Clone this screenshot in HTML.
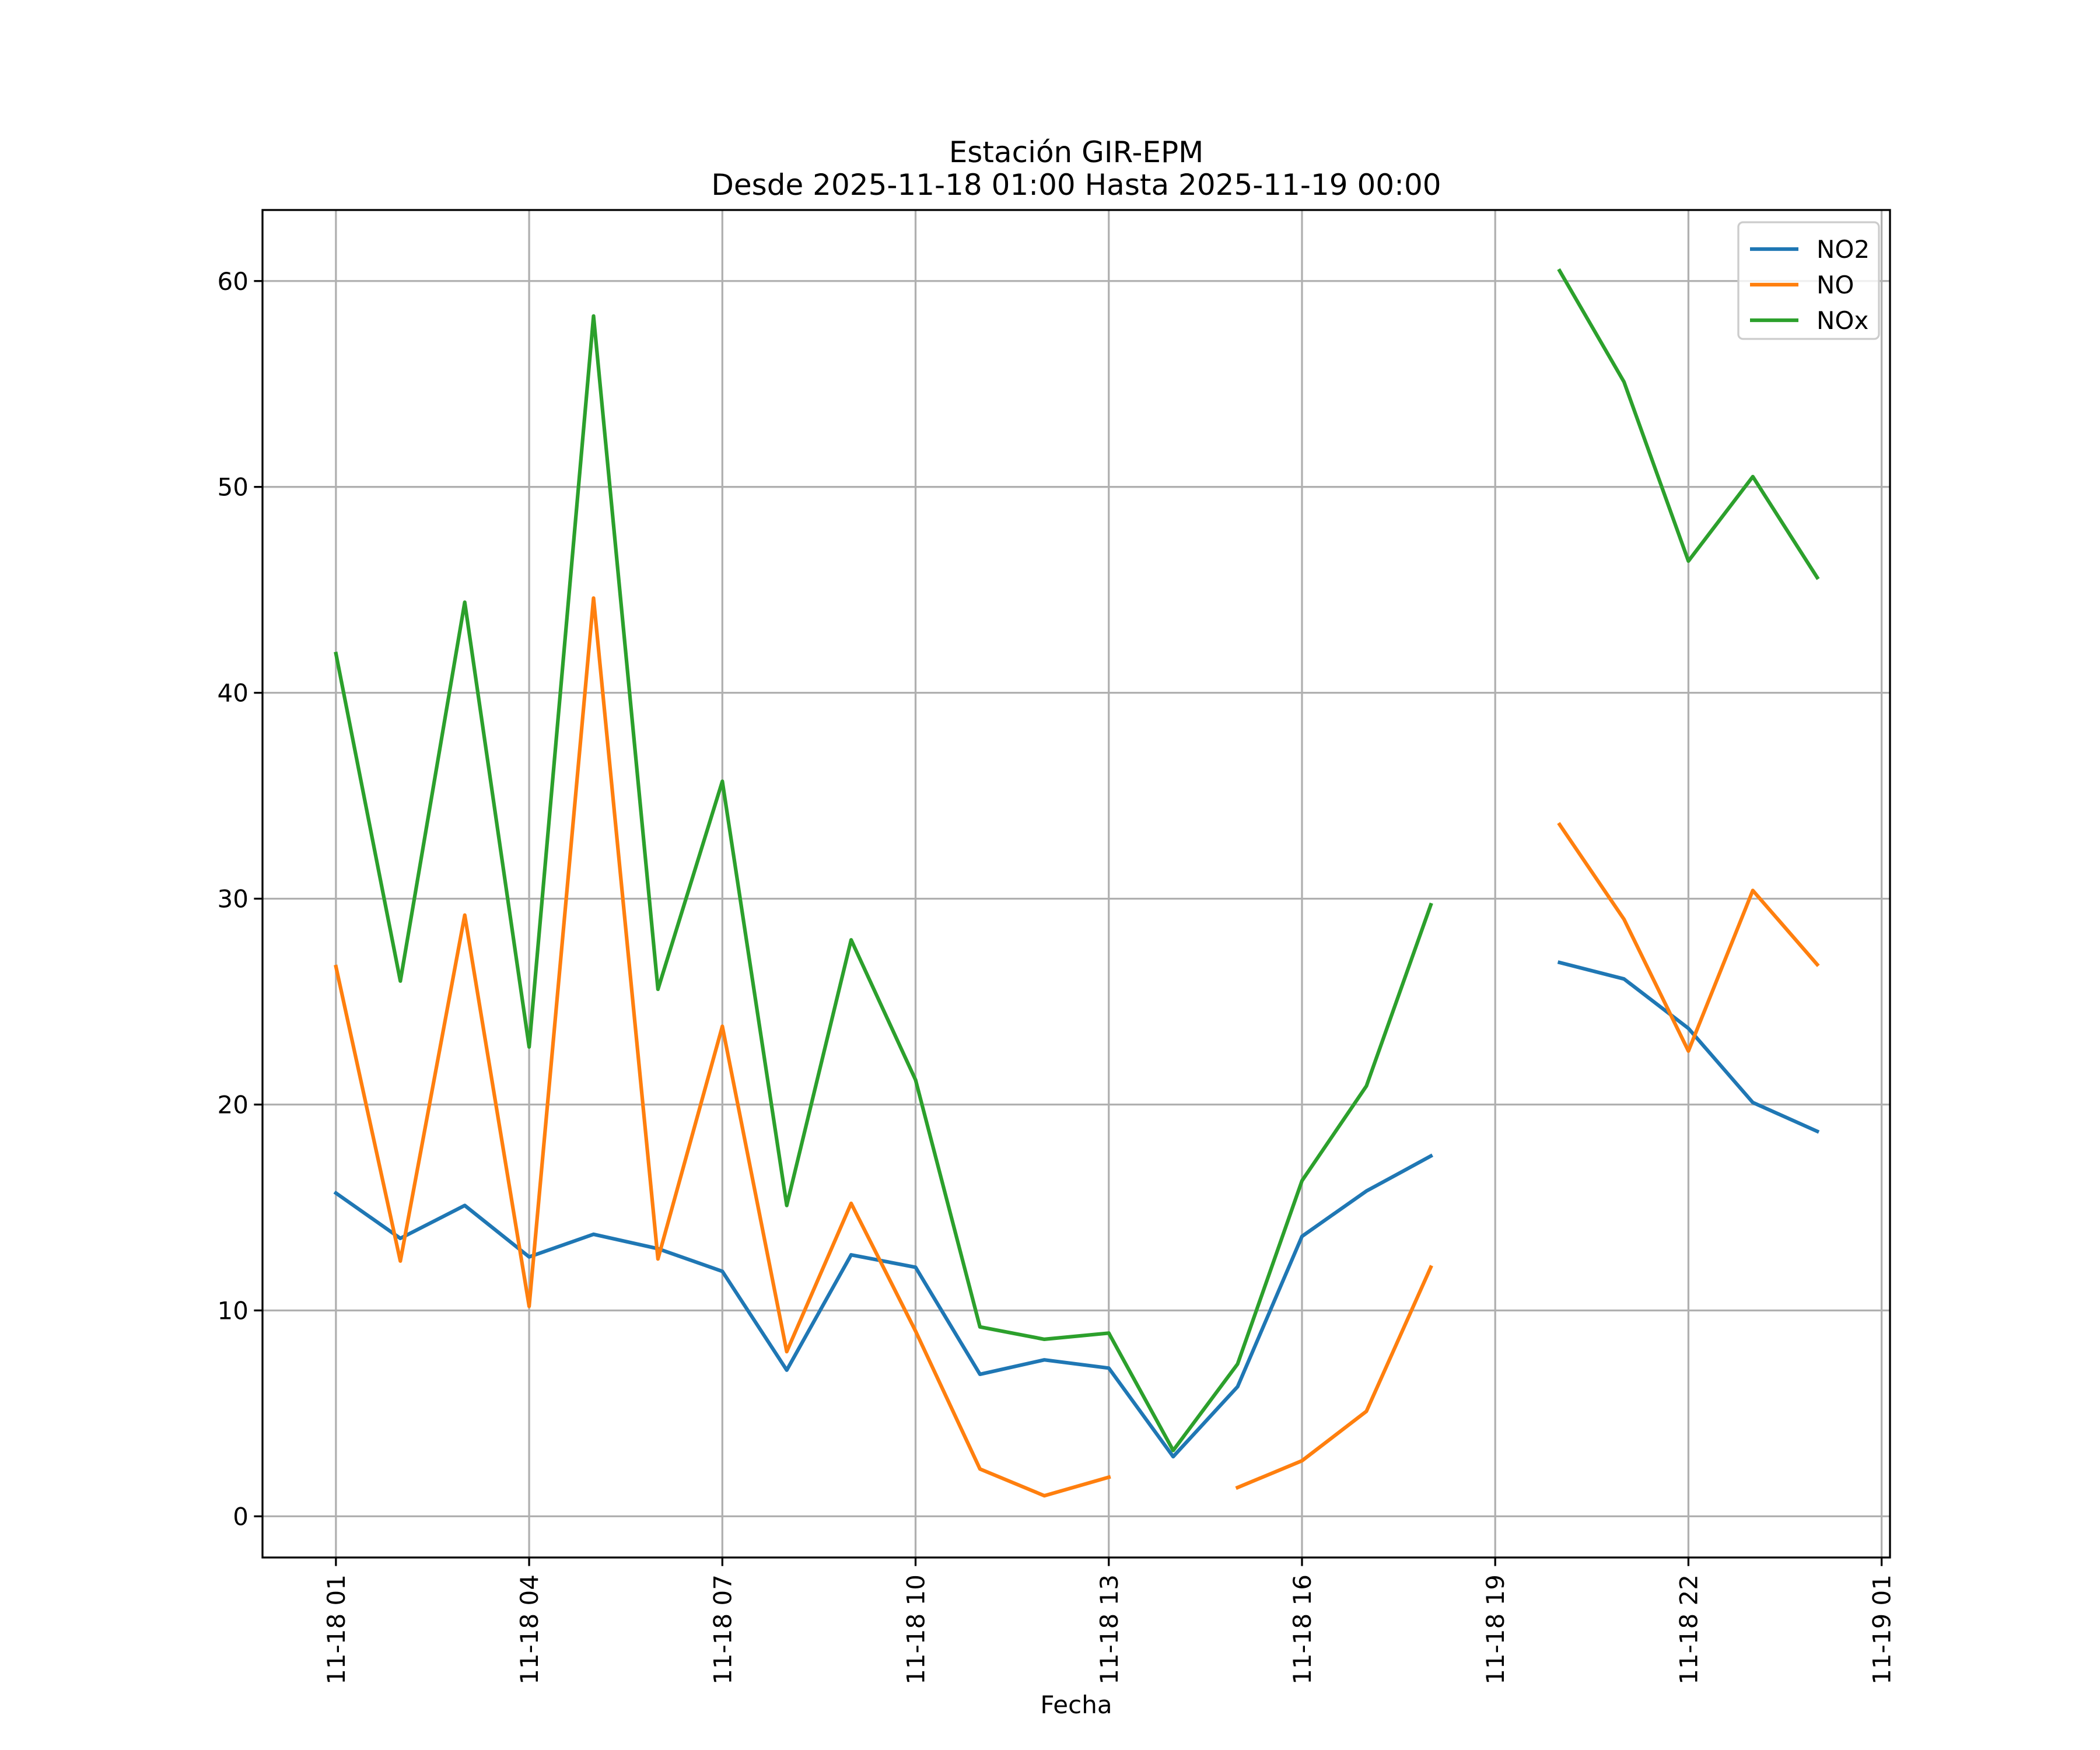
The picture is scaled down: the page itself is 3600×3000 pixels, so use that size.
<!DOCTYPE html>
<html><head><meta charset="utf-8"><style>html,body{margin:0;padding:0;background:#fff}svg{display:block}text{font-family:"DejaVu Sans","Liberation Sans",sans-serif}</style></head>
<body>
<svg id="chart" width="3600" height="3000" viewBox="0 0 3600 3000" xmlns="http://www.w3.org/2000/svg">
<rect width="3600" height="3000" fill="#fff"/>
<text x="1845" y="278" font-size="50" text-anchor="middle">Estación GIR-EPM</text>
<text x="1845" y="334" font-size="50" text-anchor="middle">Desde 2025-11-18 01:00 Hasta 2025-11-19 00:00</text>
<text x="1845" y="2937" font-size="42" text-anchor="middle">Fecha</text>
<g id="grid"></g>
<g id="series"></g>
<rect x="450" y="360" width="2790" height="2310" fill="none" stroke="#000" stroke-width="3.3"/>
<g id="ticks"></g>
<g id="legend"></g>
</svg>
<script>
const hours = [0,1,2,3,4,5,6,7,8,9,10,11,12,13,14,15,16,17,18,19,20,21,22,23];
const no2 = [15.7,13.5,15.1,12.6,13.7,13.0,11.9,7.1,12.7,12.1,6.9,7.6,7.2,2.9,6.3,13.6,15.8,17.5,null,26.9,26.1,23.7,20.1,18.7];
const no = [26.7,12.4,29.2,10.2,44.6,12.5,23.8,8.0,15.2,9.0,2.3,1.0,1.9,null,1.4,2.7,5.1,12.1,null,33.6,29.0,22.6,30.4,26.8];
const nox = [41.9,26.0,44.4,22.8,58.3,25.6,35.7,15.1,28.0,21.2,9.2,8.6,8.9,3.2,7.4,16.3,20.9,29.7,null,60.5,55.1,46.4,50.5,45.6];
const xTicks = [0,3,6,9,12,15,18,21,24];
const xTickLabels = ["11-18 01","11-18 04","11-18 07","11-18 10","11-18 13","11-18 16","11-18 19","11-18 22","11-19 01"];
const yTicks = [0,10,20,30,40,50,60];
const seriesNames = ["NO2","NO","NOx"];

const L=450,R=3240,T=360,B=2670;
const xMin=-1.14,xMax=24.13,yMin=-2.0,yMax=63.45;
const xs=v=>L+(v-xMin)/(xMax-xMin)*(R-L);
const ys=v=>B-(v-yMin)/(yMax-yMin)*(B-T);
const NS="http://www.w3.org/2000/svg";
function mk(tag,attrs,parent){const e=document.createElementNS(NS,tag);for(const k in attrs)e.setAttribute(k,attrs[k]);parent.appendChild(e);return e;}
const grid=document.getElementById('grid'),ticks=document.getElementById('ticks'),ser=document.getElementById('series'),leg=document.getElementById('legend');
xTicks.forEach((t,i)=>{
  const x=xs(t);
  const g=mk('line',{x1:x,x2:x,y1:T,y2:B,stroke:'#b0b0b0','stroke-width':3.3},grid);
  
  
  const tk=mk('line',{x1:x,x2:x,y1:B,y2:B+14.6,stroke:'#000','stroke-width':3.3},ticks);
  
  
  const tx=mk('text',{x:0,y:0,'font-size':42,'text-anchor':'end',transform:`translate(${x+15},${B+29}) rotate(-90)`},ticks);
  tx.textContent=xTickLabels[i];
  
  
});
yTicks.forEach(t=>{
  const y=ys(t);
  const g=mk('line',{x1:L,x2:R,y1:y,y2:y,stroke:'#b0b0b0','stroke-width':3.3},grid);
  
  
  const tk=mk('line',{x1:L-14.6,x2:L,y1:y,y2:y,stroke:'#000','stroke-width':3.3},ticks);
  
  
  const tx=mk('text',{x:L-24,y:y+15,'font-size':42,'text-anchor':'end'},ticks);
  tx.textContent=String(t);
  
  
});
const colors=['#1f77b4','#ff7f0e','#2ca02c'];
[no2,no,nox].forEach((arr,si)=>{
  let d='',pen=false;
  arr.forEach((v,i)=>{if(v===null){pen=false;return;}d+=(pen?'L':'M')+xs(hours[i]).toFixed(1)+' '+ys(v).toFixed(1)+' ';pen=true;});
  const p=mk('path',{d:d,fill:'none',stroke:colors[si],'stroke-width':6.25,'stroke-linejoin':'round','stroke-linecap':'square'},ser);
  
  
});
const box=mk('rect',{x:2980,y:381,width:241,height:200,rx:8,fill:'#fff','fill-opacity':0.8,stroke:'#cccccc','stroke-width':3.3},leg);


seriesNames.forEach((n,i)=>{
  const y=427+i*61;
  const ln=mk('line',{x1:3000,x2:3083,y1:y,y2:y,stroke:colors[i],'stroke-width':6.25},leg);
  
  
  const t=mk('text',{x:3114,y:y+15,'font-size':42},leg);
  t.textContent=n;
  
  
});
</script>
</body></html>
